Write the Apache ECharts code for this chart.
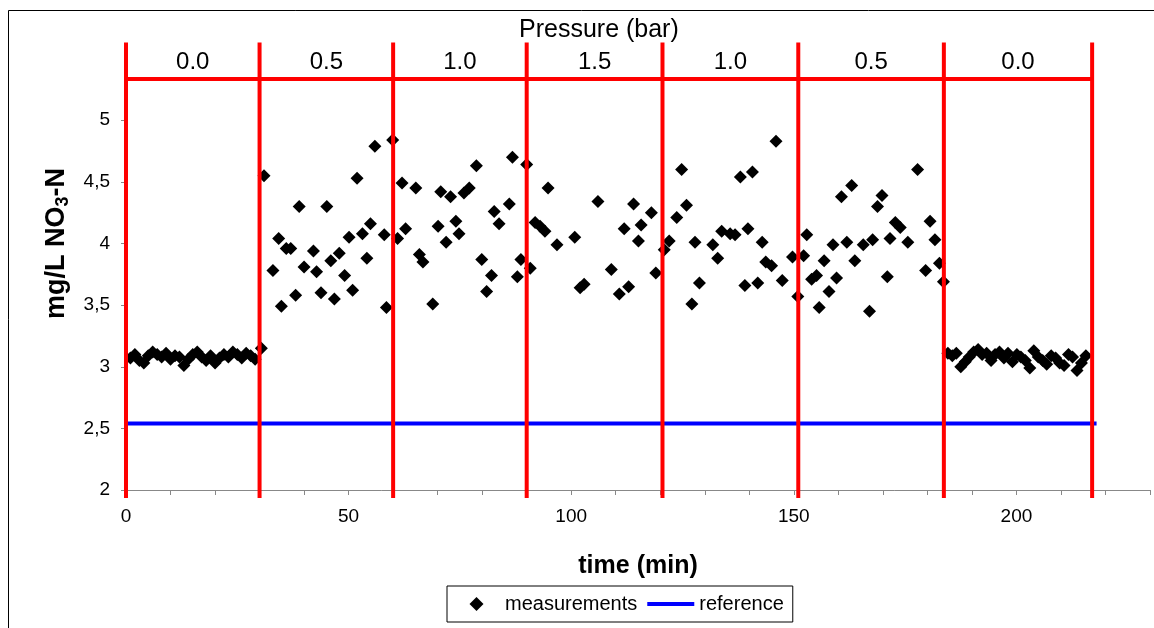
<!DOCTYPE html>
<html>
<head>
<meta charset="utf-8">
<script src="https://cdn.jsdelivr.net/npm/echarts@6/dist/echarts.min.js"></script>
<style>html,body{margin:0;padding:0;background:#fff}#c{width:1154px;height:628px}</style>
</head>
<body>
<div id="c"></div>
<script>
// ---- data ----
const startPhase = [
  [1,3.07],[2,3.10],[3,3.05],[4,3.03],[5,3.09],[6,3.12],[7,3.10],[8,3.08],[9,3.11],[10,3.06],
  [11,3.09],[12,3.08],[13,3.01],[14,3.06],[15,3.10],[16,3.12],[17,3.08],[18,3.05],[19,3.09],[20,3.03],
  [21,3.07],[22,3.10],[23,3.08],[24,3.12],[25,3.10],[26,3.07],[27,3.11],[28,3.09],[29,3.06],[30.4,3.15]
];
const middlePhase = [
  [31.0,4.55],[33.0,3.78],[34.3,4.04],[34.9,3.49],[36.0,3.96],[37.0,3.96],[38.1,3.58],[38.9,4.30],
  [40.0,3.81],[42.1,3.94],[42.8,3.77],[43.8,3.60],[45.1,4.30],[46.0,3.86],[46.8,3.55],[47.9,3.92],
  [49.1,3.74],[50.1,4.05],[50.9,3.62],[51.9,4.53],[53.1,4.08],[54.1,3.88],[54.9,4.16],[55.9,4.79],
  [58.0,4.07],[58.5,3.48],[59.9,4.84],[61.0,4.04],[62.0,4.49],[62.8,4.12],[65.1,4.45],[65.9,3.91],
  [66.7,3.85],[68.9,3.51],[70.1,4.14],[70.7,4.42],[71.9,4.01],[72.9,4.38],[74.1,4.18],[74.8,4.08],
  [75.9,4.41],[77.1,4.45],[78.7,4.63],[79.9,3.87],[81.0,3.61],[82.1,3.74],[82.7,4.26],[83.8,4.16],
  [86.1,4.32],[86.8,4.70],[87.9,3.73],[88.7,3.87],[90.0,4.64],[90.8,3.80],[91.9,4.17],[93.0,4.14],
  [94.1,4.10],[94.8,4.45],[96.8,3.99],[100.8,4.05],[102.0,3.64],[102.9,3.67],[106.0,4.34],[109.0,3.79],
  [110.8,3.59],[111.9,4.12],[112.9,3.65],[114.0,4.32],[115.1,4.02],[115.7,4.15],[118.0,4.25],[119.0,3.76],
  [120.9,3.95],[122.0,4.02],[123.7,4.21],[124.8,4.60],[125.9,4.31],[127.1,3.51],[127.8,4.01],[128.8,3.68],
  [131.8,3.99],[132.9,3.88],[133.8,4.10],[135.7,4.08],[136.8,4.07],[138.0,4.54],[139.0,3.66],[139.7,4.12],
  [140.7,4.58],[141.9,3.68],[142.9,4.01],[143.7,3.85],[145.0,3.82],[146.0,4.83],[147.4,3.70],[149.7,3.89],
  [150.9,3.57],[152.2,3.90],[152.9,4.07],[154.0,3.71],[155.1,3.74],[155.7,3.48],[156.8,3.86],[157.9,3.61],
  [158.8,3.99],[159.6,3.72],[160.7,4.38],[161.9,4.01],[163.0,4.47],[163.7,3.86],[165.6,3.99],[167.0,3.45],
  [167.7,4.03],[168.8,4.30],[169.8,4.39],[171.0,3.73],[171.6,4.04],[172.8,4.17],[173.9,4.13],[175.6,4.01],
  [177.8,4.60],[179.6,3.78],[180.6,4.18],[181.7,4.03],[182.7,3.84],[183.6,3.69]
];
const endPhase = [
  [184.6,3.11],[185.6,3.09],[186.5,3.11],[187.5,3.00],[188.5,3.04],[189.4,3.08],[190.4,3.12],[191.4,3.14],
  [192.3,3.10],[193.3,3.11],[194.3,3.05],[195.2,3.10],[196.2,3.12],[197.2,3.07],[198.1,3.11],[199.1,3.04],
  [200.1,3.10],[201.0,3.08],[202.0,3.05],[203.0,2.99],[203.9,3.13],[204.9,3.08],[205.9,3.05],[206.8,3.02],
  [207.8,3.09],[208.8,3.07],[209.7,3.03],[210.7,3.01],[211.7,3.10],[212.6,3.08],[213.6,2.97],[214.6,3.03],
  [215.6,3.09]
];
const referenceLevel = 2.54;
const referenceSpan = [-2.3, 218];
const phaseBounds = [0, 30, 60, 90, 120.5, 151, 183.7, 217];
const pressureLabels = ['0.0', '0.5', '1.0', '1.5', '1.0', '0.5', '0.0'];
const pressureBarLevel = 5.335;
const pressureLabelLevel = 5.47;
const phaseLineSpan = [1.935, 5.63];
const yTicks = [2, 2.5, 3, 3.5, 4, 4.5, 5];

// ---- chart ----
const FF = '"Liberation Sans", Arial, sans-serif';
const chart = echarts.init(document.getElementById('c'), null, {renderer: 'canvas'});
const series = [];
series.push({
  name: 'measurements', type: 'scatter', symbol: 'diamond', symbolSize: 13,
  itemStyle: {color: '#000000', opacity: 1},
  data: startPhase.concat(middlePhase, endPhase), z: 2
});
series.push({
  name: 'reference', type: 'line', symbol: 'none', clip: false,
  lineStyle: {color: '#0000FF', width: 4}, itemStyle: {color: '#0000FF'},
  data: [[referenceSpan[0], referenceLevel], [referenceSpan[1], referenceLevel]], z: 3
});
series.push({
  name: 'pressureBar', type: 'line', symbol: 'none', clip: false, silent: true,
  lineStyle: {color: '#FF0000', width: 4},
  data: [[phaseBounds[0], pressureBarLevel], [phaseBounds[phaseBounds.length - 1], pressureBarLevel]], z: 4
});
phaseBounds.forEach(function (b, i) {
  series.push({
    name: 'phase' + i, type: 'line', symbol: 'none', clip: false, silent: true,
    lineStyle: {color: '#FF0000', width: 4},
    data: [[b, phaseLineSpan[0]], [b, phaseLineSpan[1]]], z: 4
  });
});
series.push({
  name: 'pressureLabels', type: 'scatter', symbolSize: 0, silent: true,
  itemStyle: {opacity: 1},
  data: pressureLabels.map(function (l, i) {
    return {value: [(phaseBounds[i] + phaseBounds[i + 1]) / 2, pressureLabelLevel], name: l};
  }),
  label: {show: true, position: 'inside', formatter: '{b}', color: '#000', fontSize: 24, fontFamily: FF},
  z: 5
});

chart.setOption({
  animation: false,
  backgroundColor: '#ffffff',
  title: {
    text: 'Pressure (bar)', left: 519, top: 18, padding: 0,
    textStyle: {fontSize: 25, fontWeight: 'normal', color: '#000', fontFamily: FF}
  },
  legend: {
    data: [
      {name: 'measurements', icon: 'path://M0,0M47,14M23.5,0L30.5,7L23.5,14L16.5,7Z'},
      {name: 'reference', icon: 'path://M0,0L47,0L47,4L0,4Z'}
    ],
    symbolKeepAspect: true,
    left: 447, top: 586, padding: [8, 9, 8, 6],
    itemWidth: 47, itemHeight: 14, itemGap: 10,
    borderColor: '#000', borderWidth: 1, borderRadius: 0,
    textStyle: {fontSize: 20, color: '#000', fontFamily: FF}
  },
  grid: {left: 126, right: 4, top: -3, bottom: 138, outerBoundsMode: 'none', containLabel: false},
  xAxis: {
    type: 'value', min: 0, max: 230, interval: 10,
    name: 'time (min)', nameLocation: 'middle', nameGap: 64,
    nameTextStyle: {fontSize: 25, fontWeight: 'bold', color: '#000', fontFamily: FF},
    axisLine: {show: true, lineStyle: {color: '#888888', width: 1}},
    axisTick: {show: true, length: 5, lineStyle: {color: '#888888'}},
    axisLabel: {
      margin: 17, fontSize: 19, color: '#000', fontFamily: FF,
      formatter: function (v) { return v % 50 === 0 ? String(v) : ''; }
    },
    splitLine: {show: false}
  },
  yAxis: {
    type: 'value', min: 2, max: 6, interval: 0.5,
    name: '{a|mg/L NO}{b|3}{a|-N}', nameLocation: 'middle', nameGap: 54,
    nameTextStyle: {
      rich: {
        a: {fontSize: 27, fontWeight: 'bold', color: '#000', fontFamily: FF, lineHeight: 30},
        b: {fontSize: 18, fontWeight: 'bold', color: '#000', fontFamily: FF, verticalAlign: 'bottom', lineHeight: 18}
      }
    },
    axisLine: {show: false},
    axisTick: {show: true, length: 5, lineStyle: {color: '#888888'}, customValues: yTicks},
    axisLabel: {
      margin: 16, fontSize: 19, color: '#000', fontFamily: FF, customValues: yTicks,
      formatter: function (v) { return String(v).replace('.', ','); }
    },
    splitLine: {show: false}
  },
  graphic: [{
    type: 'rect', shape: {x: 8.5, y: 10.5, width: 1300, height: 800},
    style: {fill: 'none', stroke: '#000', lineWidth: 1}, silent: true, z: 100
  }],
  series: series
});
</script>
</body>
</html>
